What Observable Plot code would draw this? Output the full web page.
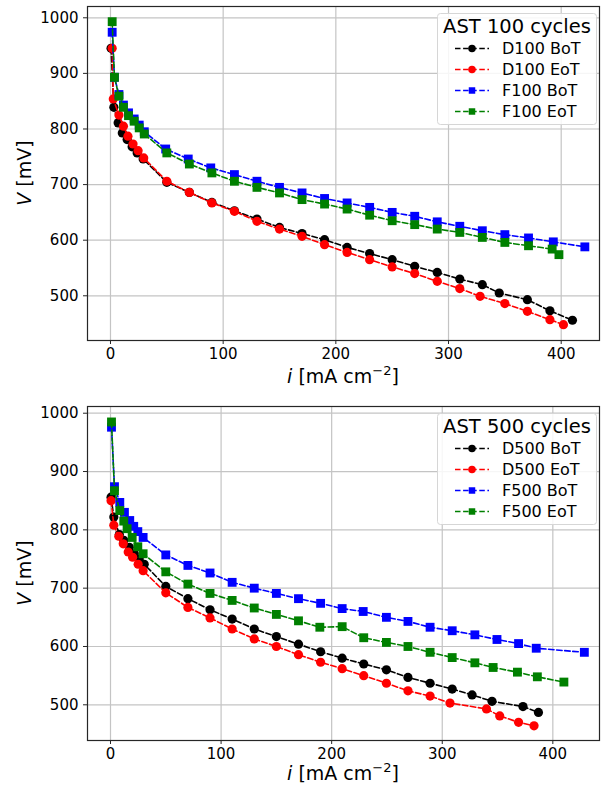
<!DOCTYPE html>
<html><head><meta charset="utf-8">
<script src="https://cdn.jsdelivr.net/npm/d3@7"></script>
<script src="https://cdn.jsdelivr.net/npm/@observablehq/plot@0.6"></script>
<style>body{margin:0;background:#fff;} #c{width:602px;} svg{display:block;}</style>
</head><body><div id="c"></div>
<script>
// ---- Panel 1: AST 100 cycles ----
const iD100BoT = [0.5, 3, 6.8, 10.5, 14.8, 19.2, 23.7, 29, 50, 70, 90, 110, 130, 150, 170, 190, 210, 230, 250, 270, 290, 310, 330, 345, 370, 390, 410];
const vD100BoT = [945, 839, 811, 793, 781, 768, 757, 746, 704, 686, 668, 653, 638, 623, 612, 601, 587, 576, 565, 553, 542, 530, 520, 505, 493, 473, 456];
const iD100EoT = [1.5, 2.5, 7.5, 11.5, 15.5, 20, 24.5, 29.5, 50, 70, 90, 110, 130, 150, 170, 190, 210, 230, 250, 270, 290, 310, 328, 350, 370, 390, 402];
const vD100EoT = [945, 854, 825, 805, 787, 773, 761, 748, 706, 686, 667, 652, 634, 620, 607, 592, 578, 565, 552, 540, 526, 513, 499, 486, 472, 457, 448];
const iF100BoT = [1.5, 3.5, 7.5, 11.5, 16, 21, 25.5, 30, 49, 69, 89, 110, 130, 150, 170, 190, 210, 230, 250, 270, 290, 310, 330, 350, 371, 393, 421];
const vF100BoT = [974, 893, 862, 843, 829, 818, 807, 795, 764, 746, 730, 718, 706, 695, 685, 675, 667, 659, 650, 643, 633, 625, 617, 610, 604, 597, 588];
const iF100EoT = [1.5, 3.5, 7.5, 11.5, 16, 21, 25.5, 30, 50, 70, 90, 110, 130, 150, 170, 190, 210, 230, 250, 270, 290, 310, 330, 350, 371, 392, 398];
const vF100EoT = [993, 893, 859, 839, 824, 814, 802, 791, 757, 737, 721, 706, 695, 685, 673, 665, 656, 645, 635, 628, 620, 614, 605, 596, 590, 584, 574];

// ---- Panel 2: AST 500 cycles ----
const iD500BoT = [0.5, 3, 8, 12, 17, 21.5, 26, 30.5, 50, 70, 90, 110, 130, 150, 170, 190, 209.5, 229, 249.5, 269, 289, 309, 327, 345, 373, 387];
const vD500BoT = [856, 822, 792, 782, 770, 759, 750, 741, 703, 682, 663, 647, 630, 617, 604, 591, 580, 570, 560, 547, 537, 527, 517, 506, 497, 487];
const iD500EoT = [0.5, 3, 7.5, 11.5, 16, 20, 25, 29.5, 50, 70, 90, 110, 130, 150, 170, 190, 209.5, 229, 249.5, 269, 289, 307, 340, 352, 369, 383];
const vD500EoT = [850, 808, 789, 776, 762, 753, 741, 730, 692, 667, 649, 630, 613, 600, 586, 573, 562, 550, 537, 524, 515, 503, 493, 481, 470, 464];
const iF500BoT = [0.9, 3.6, 8.4, 12.6, 17.4, 21, 24.7, 29.5, 50, 70, 90, 110, 130, 150, 170, 190, 209.5, 228.5, 249.5, 269, 289, 309, 329.5, 349.5, 369, 385, 428.5];
const vF500BoT = [976, 874, 847, 830, 816, 806, 797, 787, 757, 739, 726, 710, 700, 691, 682, 674, 665, 660, 650, 643, 633, 627, 620, 612, 605, 597, 590];
const iF500EoT = [0.9, 3.6, 8.4, 12, 15, 19.6, 24.7, 29.5, 50, 70, 90, 110, 130, 150, 170, 189.3, 209.5, 229, 249.5, 269, 289, 309, 329.5, 346, 368, 386, 410];
const vF500EoT = [985, 867, 833, 815, 802, 787, 771, 759, 728, 707, 691, 679, 666, 655, 644, 633, 634, 615, 607, 600, 590, 581, 572, 564, 556, 548, 539];

const xTicks = [0, 100, 200, 300, 400];
const yTicks = [500, 600, 700, 800, 900, 1000];
const colors = {BoTD: "#000000", EoTD: "#ff0000", BoTF: "#0000ff", EoTF: "#008000"};

function mk(name, xs, ys, color, symbol) {
  return {name, color, symbol, rows: xs.map((x, k) => ({i: x, v: ys[k], s: name}))};
}

function panel(cfg) {
  const marks = [
    Plot.gridX(xTicks, {stroke: "#c4c4c4", strokeOpacity: 1, strokeWidth: 1.2}),
    Plot.gridY(yTicks, {stroke: "#c4c4c4", strokeOpacity: 1, strokeWidth: 1.2})
  ];
  for (const s of cfg.series) {
    marks.push(Plot.line(s.rows, {x: "i", y: "v", stroke: s.color, strokeWidth: 1.6, strokeDasharray: "5.5,2.6", curve: "linear"}));
    marks.push(Plot.dot(s.rows, {x: "i", y: "v", fill: s.color, stroke: "none", r: s.symbol === "square" ? 5 : 4.6, symbol: s.symbol}));
  }
  marks.push(Plot.frame({stroke: "#262626", strokeWidth: 1.2}));
  marks.push(Plot.axisX(xTicks, {tickSize: 4, tickPadding: 4, fontSize: 15, label: null, stroke: "#262626", tickFormat: d => String(d)}));
  marks.push(Plot.axisY(yTicks, {tickSize: 4, tickPadding: 5, fontSize: 15, label: null, stroke: "#262626", tickFormat: d => String(d)}));
  const svg = Plot.plot({
    width: 602, height: cfg.height,
    marginLeft: 87, marginRight: 3, marginTop: cfg.top, marginBottom: cfg.height - cfg.top - 334,
    x: {domain: cfg.xd, label: null},
    y: {domain: cfg.yd, label: null},
    style: {fontFamily: "DejaVu Sans", fontSize: "15px", color: "#000", background: "#fff", overflow: "visible"},
    marks
  });
  const g = d3.select(svg).append("g").attr("font-family", "DejaVu Sans").attr("fill", "#000").attr("text-anchor", "start");
  // x label
  const xl = g.append("text").attr("x", 343).attr("y", cfg.top + 334 + cfg.xlab).attr("text-anchor", "middle").attr("font-size", 19);
  xl.append("tspan").attr("font-style", "italic").text("i");
  xl.append("tspan").text(" [mA cm");
  xl.append("tspan").attr("font-size", 13).attr("dy", -8).text("\u22122");
  xl.append("tspan").attr("dy", 8).text("]");
  // y label
  const yl = g.append("text").attr("transform", `translate(31,${cfg.top + 167}) rotate(-90)`).attr("text-anchor", "middle").attr("font-size", 19);
  yl.append("tspan").attr("font-style", "italic").text("V");
  yl.append("tspan").text(" [mV]");
  // legend
  const L = g.append("g").attr("transform", `translate(0,${cfg.top})`);
  L.append("rect").attr("x", 437.5).attr("y", 7.5).attr("width", 159).attr("height", 111).attr("rx", 3)
    .attr("fill", "#fff").attr("fill-opacity", 0.85).attr("stroke", "#d6d6d6").attr("stroke-width", 1);
  L.append("text").attr("x", 517).attr("y", 27).attr("text-anchor", "middle").attr("font-size", 19.5).text(cfg.title);
  cfg.series.forEach((s, k) => {
    const yb = 48 + 21 * k;
    L.append("line").attr("x1", 455).attr("x2", 489).attr("y1", yb - 5.5).attr("y2", yb - 5.5)
      .attr("stroke", s.color).attr("stroke-width", 1.6).attr("stroke-dasharray", "5.5,2.6");
    const sym = s.symbol === "square" ? d3.symbolSquare : d3.symbolCircle;
    L.append("path").attr("d", d3.symbol(sym, s.symbol === "square" ? 42 : 44)()).attr("transform", `translate(472,${yb - 5.5})`).attr("fill", s.color);
    L.append("text").attr("x", 502).attr("y", yb).attr("text-anchor", "start").attr("font-size", 16).text(s.name);
  });
  return svg;
}

const c = document.getElementById("c");
c.appendChild(panel({
  height: 392, top: 6, xlab: 43, xd: [-20.4, 434], yd: [419.6, 1020.3], title: "AST 100 cycles",
  series: [
    mk("D100 BoT", iD100BoT, vD100BoT, colors.BoTD, "circle"),
    mk("D100 EoT", iD100EoT, vD100EoT, colors.EoTD, "circle"),
    mk("F100 BoT", iF100BoT, vF100BoT, colors.BoTF, "square"),
    mk("F100 EoT", iF100EoT, vF100EoT, colors.EoTF, "square")
  ]
}));
c.appendChild(panel({
  height: 394, top: 14, xlab: 40, xd: [-20.8, 442.2], yd: [438.8, 1011.5], title: "AST 500 cycles",
  series: [
    mk("D500 BoT", iD500BoT, vD500BoT, colors.BoTD, "circle"),
    mk("D500 EoT", iD500EoT, vD500EoT, colors.EoTD, "circle"),
    mk("F500 BoT", iF500BoT, vF500BoT, colors.BoTF, "square"),
    mk("F500 EoT", iF500EoT, vF500EoT, colors.EoTF, "square")
  ]
}));
</script></body></html>
